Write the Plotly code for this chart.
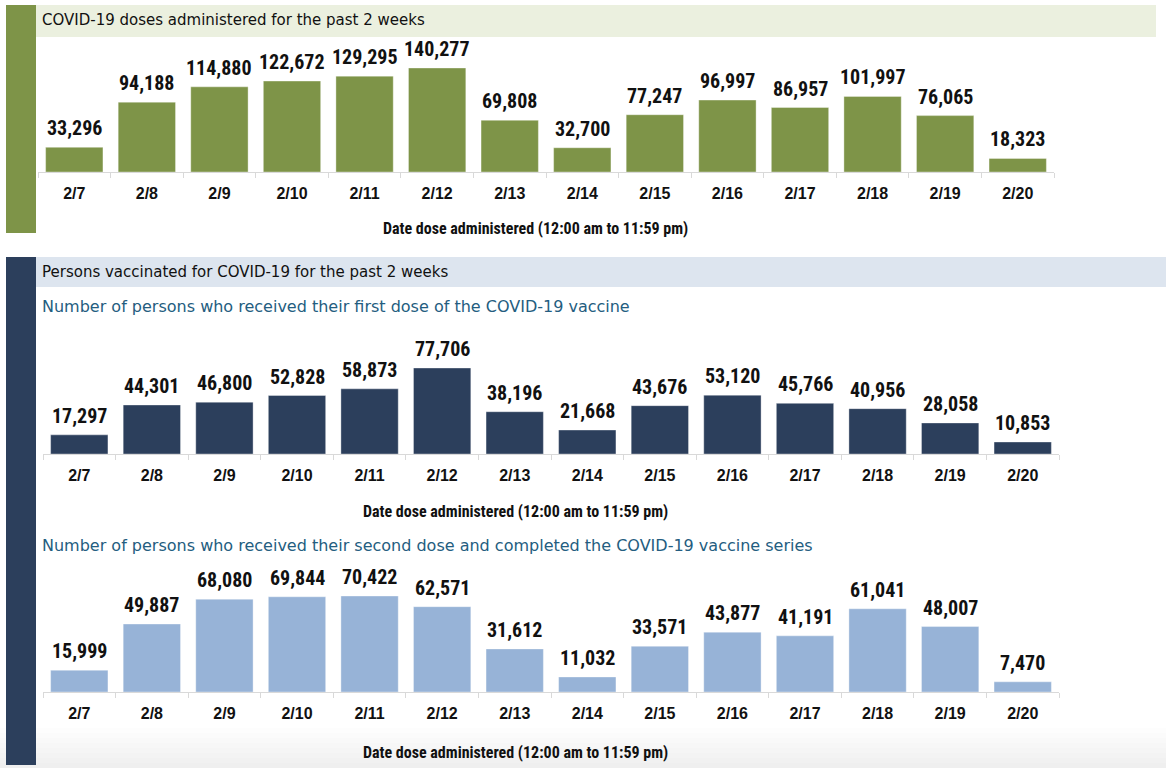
import plotly.graph_objects as go

W, H = 1166, 768

dates = ["2/7", "2/8", "2/9", "2/10", "2/11", "2/12", "2/13", "2/14",
         "2/15", "2/16", "2/17", "2/18", "2/19", "2/20"]
doses_total = [33296, 94188, 114880, 122672, 129295, 140277, 69808, 32700,
               77247, 96997, 86957, 101997, 76065, 18323]
first_dose = [17297, 44301, 46800, 52828, 58873, 77706, 38196, 21668,
              43676, 53120, 45766, 40956, 28058, 10853]
second_dose = [15999, 49887, 68080, 69844, 70422, 62571, 31612, 11032,
               33571, 43877, 41191, 61041, 48007, 7470]

header1 = "COVID-19 doses administered for the past 2 weeks"
header2 = "Persons vaccinated for COVID-19 for the past 2 weeks"
sub1 = "Number of persons who received their first dose of the COVID-19 vaccine"
sub2 = "Number of persons who received their second dose and completed the COVID-19 vaccine series"
axis_title = "Date dose administered (12:00 am to 11:59 pm)"

GREEN = "#7E9448"
GREEN_BAND = "#EBF0DF"
NAVY = "#2C3F5C"
BLUE_BAND = "#DDE5EF"
LIGHT_BLUE = "#97B3D7"
SUB_COLOR = "#245D80"

BOLDF = "Liberation Sans, Arial, sans-serif"
NARROW = "Roboto Condensed, Liberation Sans Narrow, Arial Narrow, sans-serif"
SANS = "DejaVu Sans, Verdana, sans-serif"


def px(x):
    return x / W


def py(y):
    return 1 - y / H


fig = go.Figure()

charts = [
    (doses_total, GREEN, (38, 1054), 172, 45, 171300, ""),
    (first_dose, NAVY, (43, 1059), 454, 330, 112040, "2"),
    (second_dose, LIGHT_BLUE, (43, 1059), 692, 565, 93160, "3"),
]

annotations = []

for data, color, (x0, x1), bot, top, rmax, sfx in charts:
    fig.add_trace(go.Bar(
        x=dates, y=data,
        marker=dict(color=color, line=dict(width=0.6, color="rgba(255,255,255,0.6)")),
        xaxis="x" + sfx, yaxis="y" + sfx,
        showlegend=False, hoverinfo="skip",
    ))
    for d, v in zip(dates, data):
        annotations.append(dict(
            text=f"{v:,}", x=d, y=v, xref="x" + sfx, yref="y" + sfx,
            xanchor="center", yanchor="bottom", yshift=5,
            font=dict(family=NARROW, size=20, color="#111111", weight="bold"),
        ))
    fig.update_layout(**{
        "xaxis" + sfx: dict(
            domain=[px(x0), px(x1)], anchor="y" + sfx, type="category",
            showline=True, linecolor="#D9D9D9", linewidth=1,
            ticks="outside", tickson="boundaries", ticklen=5,
            tickcolor="#D9D9D9", showgrid=False,
            tickfont=dict(family=BOLDF, size=16, color="#111111", weight="bold"),
            ticklabelstandoff=7, fixedrange=True,
        ),
        "yaxis" + sfx: dict(
            domain=[py(bot), py(top)], anchor="x" + sfx, range=[0, rmax],
            visible=False, showgrid=False, zeroline=False, fixedrange=True,
        ),
    })

shapes = []
# faint grey fade at the bottom of the page
for k in range(8):
    shapes.append(dict(type="rect", xref="paper", yref="paper",
                       x0=0, x1=1, y0=py(768), y1=py(728 + k * 5),
                       fillcolor="rgba(0,0,0,0.009)", line=dict(width=0), layer="below"))
shapes += [
    dict(type="rect", xref="paper", yref="paper", x0=px(6), x1=px(36),
         y0=py(233), y1=py(5), fillcolor=GREEN, line=dict(width=0), layer="below"),
    dict(type="rect", xref="paper", yref="paper", x0=px(36), x1=px(1156),
         y0=py(37), y1=py(5), fillcolor=GREEN_BAND, line=dict(width=0), layer="below"),
    dict(type="rect", xref="paper", yref="paper", x0=px(6), x1=px(36),
         y0=py(765), y1=py(257), fillcolor=NAVY, line=dict(width=0), layer="below"),
    dict(type="rect", xref="paper", yref="paper", x0=px(36), x1=px(1166),
         y0=py(287), y1=py(257), fillcolor=BLUE_BAND, line=dict(width=0), layer="below"),
]

annotations += [
    dict(text=header1, x=px(40), y=py(20), xanchor="left", yanchor="middle",
         font=dict(family=SANS, size=15, color="#111111")),
    dict(text=header2, x=px(40), y=py(272), xanchor="left", yanchor="middle",
         font=dict(family=SANS, size=15, color="#111111")),
    dict(text=sub1, x=px(40), y=py(306), xanchor="left", yanchor="middle",
         font=dict(family=SANS, size=16, color=SUB_COLOR)),
    dict(text=sub2, x=px(40), y=py(545), xanchor="left", yanchor="middle",
         font=dict(family=SANS, size=16, color=SUB_COLOR)),
    dict(text=axis_title, x=px(535), y=py(229), xanchor="center", yanchor="middle",
         font=dict(family=NARROW, size=16, color="#111111", weight="bold")),
    dict(text=axis_title, x=px(515), y=py(511), xanchor="center", yanchor="middle",
         font=dict(family=NARROW, size=16, color="#111111", weight="bold")),
    dict(text=axis_title, x=px(515), y=py(752), xanchor="center", yanchor="middle",
         font=dict(family=NARROW, size=16, color="#111111", weight="bold")),
]
for a in annotations:
    a.setdefault("xref", "paper")
    a.setdefault("yref", "paper")
    a["showarrow"] = False

fig.update_layout(
    width=W, height=H, margin=dict(l=0, r=0, t=0, b=0),
    paper_bgcolor="white", plot_bgcolor="rgba(0,0,0,0)",
    bargap=0.21, shapes=shapes, annotations=annotations,
)

fig.write_html("out.html", config={"displayModeBar": False},
               post_script="document.body.style.margin='0';document.body.style.padding='0';")
